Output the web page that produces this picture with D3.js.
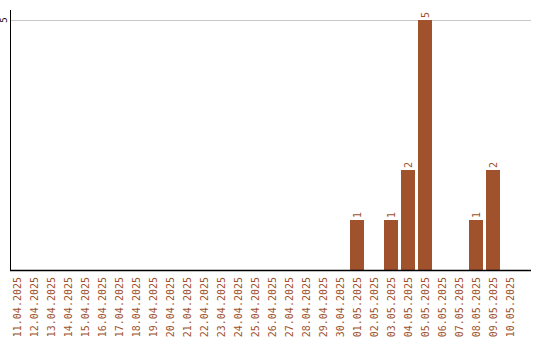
<!DOCTYPE html>
<html><head><meta charset="utf-8">
<script src="https://cdn.jsdelivr.net/npm/d3@7"></script>
<style>html,body{margin:0;padding:0;background:#fff;}svg{display:block;}</style>
</head><body><svg id="c" width="540" height="340"></svg>
<script>
const categories = ["11.04.2025","12.04.2025","13.04.2025","14.04.2025","15.04.2025","16.04.2025","17.04.2025","18.04.2025","19.04.2025","20.04.2025","21.04.2025","22.04.2025","23.04.2025","24.04.2025","25.04.2025","26.04.2025","27.04.2025","28.04.2025","29.04.2025","30.04.2025","01.05.2025","02.05.2025","03.05.2025","04.05.2025","05.05.2025","06.05.2025","07.05.2025","08.05.2025","09.05.2025","10.05.2025"];
const values = [0,0,0,0,0,0,0,0,0,0,0,0,0,0,0,0,0,0,0,0,1,0,1,2,5,0,0,1,2,0];
const yTicks = [5];

const svg = d3.select("#c");
const color = "#a0522d";
const font = "'DejaVu Sans Mono', monospace";
const x = d3.scaleBand().domain(categories).range([10, 520]).padding(0);
const y = d3.scaleLinear().domain([0, 5]).range([270, 20]);
const barW = x.bandwidth() - 3;

// gridlines
svg.append("g").selectAll("line").data(yTicks).join("line")
  .attr("x1", 11).attr("x2", 531).attr("y1", d => y(d)).attr("y2", d => y(d))
  .attr("stroke", "#c8c8c8").attr("stroke-width", 1).attr("shape-rendering", "crispEdges");

// y tick labels
svg.append("g").selectAll("text").data(yTicks).join("text")
  .attr("transform", d => `translate(7,${y(d)}) rotate(-90)`)
  .attr("text-anchor", "middle").attr("font-family", font).attr("font-size", 9)
  .attr("fill", "#000").text(d => d);

// bars
const data = categories.map((c, i) => ({c, v: values[i]}));
svg.append("g").selectAll("rect").data(data.filter(d => d.v > 0)).join("rect")
  .attr("x", d => x(d.c)).attr("width", barW)
  .attr("y", d => y(d.v)).attr("height", d => y(0) - y(d.v))
  .attr("fill", color).attr("shape-rendering", "crispEdges");

// value labels
svg.append("g").selectAll("text").data(data.filter(d => d.v > 0)).join("text")
  .attr("transform", d => `translate(${x(d.c) + barW / 2 + 3.5},${y(d.v) - 2}) rotate(-90)`)
  .attr("text-anchor", "start").attr("font-family", font).attr("font-size", 10)
  .attr("fill", color).text(d => d.v);

// axes lines
svg.append("line").attr("x1", 10.5).attr("x2", 10.5).attr("y1", 10).attr("y2", 270)
  .attr("stroke", "#000").attr("stroke-width", 1);
svg.append("line").attr("x1", 10).attr("x2", 531).attr("y1", 270.5).attr("y2", 270.5)
  .attr("stroke", "#000").attr("stroke-width", 1.5);

// x labels
svg.append("g").selectAll("text").data(categories).join("text")
  .attr("transform", d => `translate(${x(d) + barW / 2 + 3.5},277) rotate(-90)`)
  .attr("text-anchor", "end").attr("font-family", font).attr("font-size", 10)
  .attr("fill", color).text(d => d);
</script></body></html>
